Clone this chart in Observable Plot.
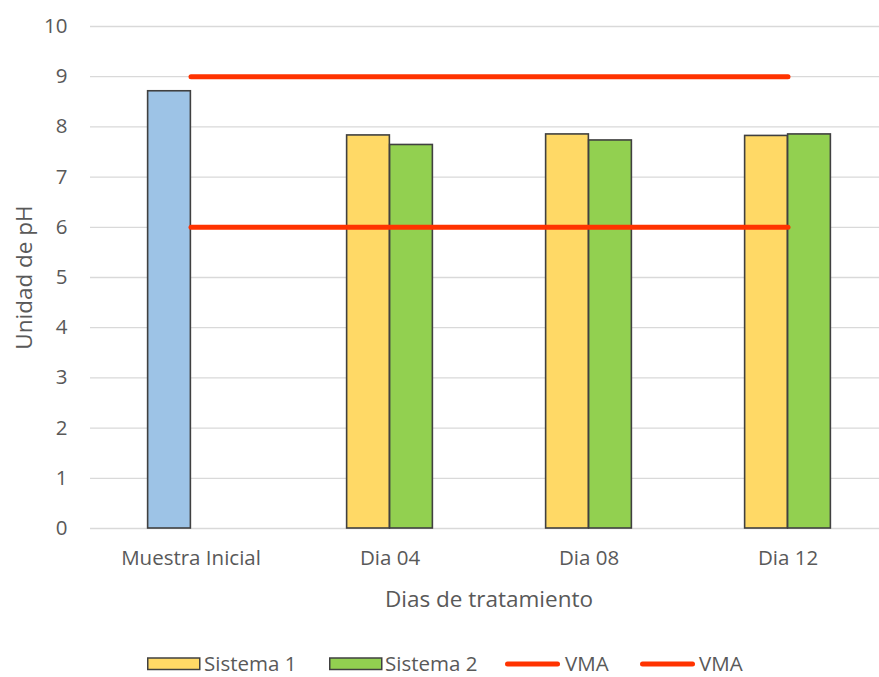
<!DOCTYPE html>
<html>
<head>
<meta charset="utf-8">
<script src="https://cdn.jsdelivr.net/npm/d3@7"></script>
<script src="https://cdn.jsdelivr.net/npm/@observablehq/plot@0.6"></script>
<style>
  html, body { margin: 0; padding: 0; background: #fff; overflow: hidden; }
  #chart { width: 887px; height: 610px; }
  #chart svg { max-width: none !important; display: block; }
  #legend { display: block; }
</style>
</head>
<body>
<div id="chart"></div>
<script>
const categories = ["Muestra Inicial", "Dia 04", "Dia 08", "Dia 12"];
const inicialValues = [8.71];
const sistema1Values = [null, 7.83, 7.85, 7.82];
const sistema2Values = [null, 7.64, 7.73, 7.85];
const vmaMax = 9;
const vmaMin = 6;
const yTicks = [0, 1, 2, 3, 4, 5, 6, 7, 8, 9, 10];
const seriesNames = ["Sistema 1", "Sistema 2", "VMA", "VMA"];

const inicial = [{cat: categories[0], v: inicialValues[0]}];
const s1 = categories.map((c, i) => ({cat: c, v: sistema1Values[i]})).filter(d => d.v != null);
const s2 = categories.map((c, i) => ({cat: c, v: sistema2Values[i]})).filter(d => d.v != null);
const vmaHi = [{cat: categories[0], v: vmaMax}, {cat: categories[categories.length - 1], v: vmaMax}];
const vmaLo = [{cat: categories[0], v: vmaMin}, {cat: categories[categories.length - 1], v: vmaMin}];

const W = 887, bw = (W - 90) / categories.length, barW = 43;
const inL = bw / 2 - barW, inR = bw / 2;

const plot = Plot.plot({
  width: W,
  height: 610,
  marginLeft: 90,
  marginRight: 0,
  marginTop: 26,
  marginBottom: 82,
  style: {fontFamily: "'Open Sans', sans-serif", fontSize: "20.5px", color: "#595959", overflow: "visible", maxWidth: "none"},
  x: {domain: categories, padding: 0, label: null},
  y: {domain: [0, 10], label: null},
  marks: [
    Plot.ruleY(yTicks, {stroke: "#d9d9d9", strokeWidth: 1.3}),
    Plot.axisY({ticks: yTicks, tickSize: 0, tickPadding: 23, fontSize: 20.5, label: null}),
    Plot.axisY({ticks: [], tickSize: 0, fontSize: 22.5, label: "Unidad de pH", labelAnchor: "center", labelOffset: 74, labelArrow: "none"}),
    Plot.axisX({tickSize: 0, tickPadding: 22, fontSize: 20.5, label: null}),
    Plot.axisX({ticks: [], tickSize: 0, fontSize: 22.5, label: "Dias de tratamiento", labelAnchor: "center", labelOffset: 78, labelArrow: "none"}),
    Plot.barY(inicial, {x: "cat", y: "v", fill: "#9DC3E6", stroke: "#404040", strokeWidth: 1.6, insetLeft: inL, insetRight: inR}),
    Plot.barY(s1, {x: "cat", y: "v", fill: "#FFD966", stroke: "#404040", strokeWidth: 1.6, insetLeft: inL, insetRight: inR}),
    Plot.barY(s2, {x: "cat", y: "v", fill: "#92D050", stroke: "#404040", strokeWidth: 1.6, insetLeft: inR, insetRight: inL}),
    Plot.lineY(vmaHi, {x: "cat", y: "v", stroke: "#FF3300", strokeWidth: 5, strokeLinecap: "round"}),
    Plot.lineY(vmaLo, {x: "cat", y: "v", stroke: "#FF3300", strokeWidth: 5, strokeLinecap: "round"})
  ]
});
document.getElementById("chart").appendChild(plot);

// Legend (below the chart)
const specs = [
  {type: "box", color: "#FFD966", left: 147, textX: 204},
  {type: "box", color: "#92D050", left: 329, textX: 385},
  {type: "line", color: "#FF3300", left: 505, textX: 565},
  {type: "line", color: "#FF3300", left: 640, textX: 699}
];
const lg = d3.create("svg").attr("id", "legend").attr("width", 879).attr("height", 67)
  .style("font-family", "'Open Sans', sans-serif").style("font-size", "20.5px");
seriesNames.forEach((name, i) => {
  const s = specs[i];
  if (s.type === "box") {
    lg.append("rect").attr("x", s.left + 0.75).attr("y", 48).attr("width", 52).attr("height", 11.5)
      .attr("fill", s.color).attr("stroke", "#404040").attr("stroke-width", 1.5);
  } else {
    lg.append("line").attr("x1", s.left + 2.5).attr("x2", s.left + 52.5).attr("y1", 54).attr("y2", 54)
      .attr("stroke", s.color).attr("stroke-width", 5).attr("stroke-linecap", "round");
  }
  lg.append("text").attr("x", s.textX).attr("y", 60.5).attr("fill", "#595959").text(name);
});
document.body.appendChild(lg.node());
</script>
</body>
</html>
